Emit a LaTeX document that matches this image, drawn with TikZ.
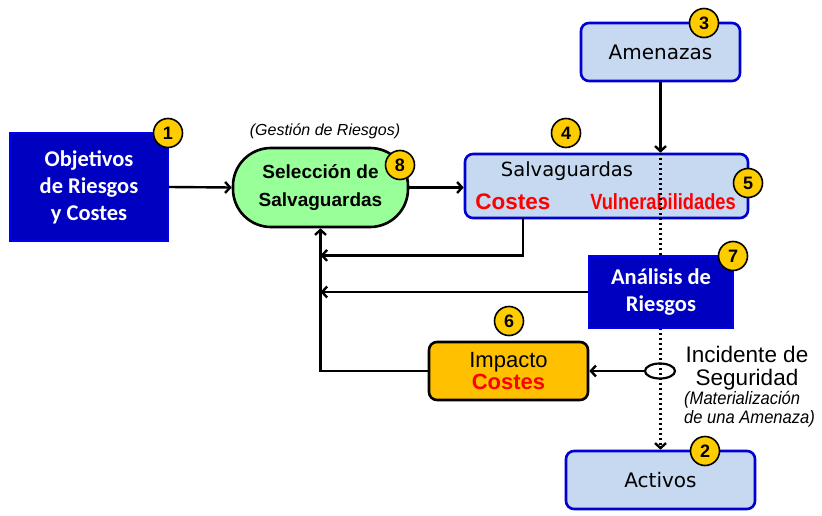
\documentclass[tikz,border=0pt]{standalone}
\usepackage{fontspec}
\setmainfont{Liberation Sans}
\newfontfamily\dvs{DejaVu Sans}
\newfontfamily\carl{Carlito}
\newfontfamily\condsans{Liberation Sans}[FakeStretch=0.83]
\newfontfamily\condit{Liberation Sans}[FakeStretch=0.92]
\usetikzlibrary{arrows.meta,shapes.geometric}
\definecolor{darkblue}{HTML}{0000C0}
\definecolor{boxblue}{HTML}{0000D0}
\definecolor{lightblue}{HTML}{C6D9F0}
\definecolor{lightgreen}{HTML}{99FF99}
\definecolor{imporange}{HTML}{FFC000}
\definecolor{badgeyellow}{HTML}{FFCC00}
\begin{document}
\begin{tikzpicture}[x=1pt,y=-1pt,
  arr/.style={line width=2.4pt,-{Straight Barb[length=5pt,width=11pt]}},
  lbox/.style={draw=boxblue,line width=2.6pt,fill=lightblue,rounded corners=8pt,inner sep=0pt,font=\dvs\fontsize{20}{22}\selectfont},
  dbox/.style={fill=darkblue,draw=blue!75!darkblue,line width=1.2pt,text=white,align=center,inner sep=0pt,font=\carl\bfseries\fontsize{22.5}{27}\selectfont},
  badge/.style={circle,draw=black,line width=1.6pt,fill=badgeyellow,minimum size=29pt,inner sep=0pt,font=\bfseries\fontsize{18}{18}\selectfont},
  dotline/.style={line width=2.4pt,dash pattern=on 2pt off 3pt,-{Straight Barb[length=5pt,width=11pt]}}]
\useasboundingbox (0,0) rectangle (822,516);

% Objetivos
\node[dbox,minimum width=158pt,minimum height=108pt] (obj) at (89,187) {Objetivos\\de Riesgos\\y Costes};
\node[badge] (b1) at (168,133) {1};

% Seleccion
\node[font=\itshape\fontsize{16}{16}\selectfont] (gest) at (325,131) {(Gestión de Riesgos)};
\node[draw,line width=2.6pt,fill=lightgreen,rounded corners=38pt,minimum width=175pt,minimum height=79pt,inner sep=0pt,align=center,font=\bfseries\fontsize{19}{28}\selectfont] (sel) at (320.5,187.5) {Selección de\\Salvaguardas};
\node[badge] (b8) at (400,165) {8};

% Salvaguardas
\node[lbox,minimum width=283pt,minimum height=64pt] (salv) at (606.5,186) {};
\node[font=\dvs\fontsize{19.5}{20}\selectfont] (salvt) at (567,171) {Salvaguardas};
\node[text=red,font=\bfseries\fontsize{22.5}{22}\selectfont] (salvc) at (513,202) {Costes};
\node[text=red,font=\condsans\bfseries\fontsize{22}{22}\selectfont] (vul) at (663,202) {Vulnerabilidades};
\node[badge] (b4) at (566,133) {4};

% Amenazas
\node[lbox,minimum width=159pt,minimum height=58pt] (amen) at (660.5,52) {Amenazas};
\node[badge] (b3) at (704,23) {3};

% Activos
\node[lbox,minimum width=189pt,minimum height=58pt] (act) at (660.5,480) {Activos};
\node[badge] (b2) at (705,451) {2};

% dotted line through
\coordinate (hit) at (salv.north -| amen.south);
\draw[dotline] (hit) -- (act.north);
\draw[arr] (amen.south) -- (hit);
\node[badge] (b5) at (748,183) {5};

% Analisis
\node[dbox,minimum width=144pt,minimum height=72pt] (anal) at (661,292) {Análisis de\\Riesgos};
\node[badge] (b7) at (733,256) {7};

% Impacto
\node[draw,line width=2.6pt,fill=imporange,rounded corners=8pt,minimum width=159pt,minimum height=58pt,inner sep=0pt,align=center,font=\fontsize{22}{23}\selectfont] (imp) at (508.5,371) {Impacto\\[-1pt]\textcolor{red}{\bfseries Costes}};
\node[badge] (b6) at (509,321) {6};

% Incidente
\node[ellipse,draw,line width=2.2pt,minimum width=30pt,minimum height=15pt,inner sep=0pt] (inc) at (660,371) {};
\node[align=center,font=\fontsize{22.5}{23}\selectfont] (inct) at (747,368) {Incidente de\\Seguridad};
\node[anchor=west,align=left,inner sep=0pt,font=\condit\itshape\fontsize{18}{19.5}\selectfont] (mat) at (684,409) {(Materialización\\de una Amenaza)};

% connectors
\coordinate (salvout) at (523,218);
\draw[arr] (obj.east) -- (sel.west);
\draw[arr] (sel.east) -- (sel.east -| salv.west);
\draw[arr] (salvout) |- (sel.south |- anal.north);
\draw[arr] (anal.west) -- (anal.west -| sel.south);
\draw[arr] (imp.west) -| (sel.south);
\draw[arr] (inc.west) -- (imp.east);
\end{tikzpicture}
\end{document}
